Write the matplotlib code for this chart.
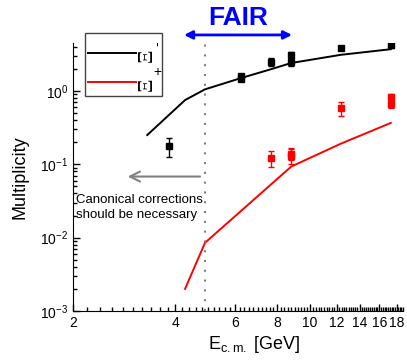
import numpy as np
import matplotlib.pyplot as plt
from matplotlib.ticker import FixedLocator, FixedFormatter, MultipleLocator, LogLocator
from matplotlib.patches import Rectangle
from matplotlib.lines import Line2D
import matplotlib.transforms as mtransforms

plt.rcParams['font.family'] = ['Liberation Sans', 'DejaVu Sans']
plt.rcParams['mathtext.fontset'] = 'custom'
plt.rcParams['mathtext.rm'] = 'Liberation Sans'
plt.rcParams['mathtext.it'] = 'Liberation Sans:italic'
plt.rcParams['mathtext.bf'] = 'Liberation Sans:bold'

# model curves (statistical model)
model_x_xim = [3.31, 4.28, 4.9, 6.27, 7.6, 8.8, 12.3, 17.3]
model_y_xim = [0.25, 0.75, 1.05, 1.5, 1.95, 2.4, 3.1, 3.7]
model_x_xip = [4.28, 4.9, 8.8, 12.3, 17.3]
model_y_xip = [0.002, 0.0085, 0.093, 0.19, 0.366]

# measured points
data_x_xim = [3.84, 6.27, 6.27, 7.65, 8.77, 8.77, 12.3, 17.3]
data_y_xim = [0.175, 1.45, 1.6, 2.5, 2.45, 3.05, 3.85, 4.2]
data_e_xim = [0.05, 0.1, 0.1, 0.3, 0.25, 0.3, 0.25, 0.4]

data_x_xip = [7.65, 8.77, 8.77, 12.3, 17.3, 17.3]
data_y_xip = [0.122, 0.13, 0.14, 0.58, 0.82, 0.67]
data_e_xip = [0.03, 0.03, 0.025, 0.13, 0.08, 0.08]

x_ticks = [2, 4, 6, 8, 10, 12, 14, 16, 18]
x_ticklabels = ['2', '4', '6', '8', '10', '12', '14', '16', '18']
fair_range = [4.25, 8.85]
canonical_edge = 4.9

legend_names = ['Ξ', 'Ξ']
legend_signs = ['-', '+']
legend_colors = ['black', 'red']

fig = plt.figure(figsize=(4.07, 3.63), dpi=100)
ax = fig.add_axes([0.1794, 0.1433, 0.8108, 0.7383])

ax.plot(model_x_xim, model_y_xim, color='black', lw=1.4)
ax.plot(model_x_xip, model_y_xip, color='red', lw=1.4)
ax.errorbar(data_x_xim, data_y_xim, yerr=data_e_xim, fmt='s', color='black',
            ms=5, capsize=2.5, elinewidth=1, capthick=1)
ax.errorbar(data_x_xip, data_y_xip, yerr=data_e_xip, fmt='s', color='red',
            ms=5, capsize=2.5, elinewidth=1, capthick=1)

ax.set_xscale('log')
ax.set_yscale('log')
ax.set_xlim(2, 18.8)
ax.set_ylim(1e-3, 4.5)

ax.xaxis.set_major_locator(FixedLocator(x_ticks))
ax.xaxis.set_major_formatter(FixedFormatter(x_ticklabels))
ax.xaxis.set_minor_locator(MultipleLocator(0.2))
ax.xaxis.set_minor_formatter(FixedFormatter([]))
ax.yaxis.set_major_locator(LogLocator(base=10))
ax.yaxis.set_minor_locator(LogLocator(base=10, subs=np.arange(2, 10)))

ax.spines['top'].set_visible(False)
ax.spines['right'].set_visible(False)
ax.tick_params(which='both', direction='in', width=1, labelsize=10, top=False, right=False)
ax.tick_params(which='major', length=5)
ax.tick_params(which='minor', length=3)

ax.set_xlabel(r'E$_{\rm c.m.}$ [GeV]', fontsize=13, labelpad=3)
ax.xaxis.set_label_coords(0.55, -0.085)
ax.set_ylabel('Multiplicity', fontsize=13, labelpad=8)

# canonical border
ax.axvline(canonical_edge, ymin=0, ymax=1.012, color='gray', lw=1.5,
           linestyle=(0, (1, 3.7)), clip_on=False)
ax.annotate('', xy=(2.9, 0.068), xytext=(4.74, 0.068),
            arrowprops=dict(arrowstyle='->', color='gray', lw=1.5,
                            mutation_scale=18, shrinkA=0, shrinkB=0))
ax.text(2.04, 0.0257, 'Canonical corrections\nshould be necessary', fontsize=9.5,
        va='center', ha='left', linespacing=1.25)

# FAIR range
trans = mtransforms.blended_transform_factory(ax.transData, ax.transAxes)
ax.annotate('', xy=(fair_range[0], 1.03), xytext=(fair_range[1], 1.03),
            xycoords=trans, textcoords=trans,
            arrowprops=dict(arrowstyle='<|-|>', color='blue', lw=2,
                            mutation_scale=12, shrinkA=0, shrinkB=0))
ax.text(np.sqrt(fair_range[0] * fair_range[1]), 1.092, 'FAIR', transform=trans,
        ha='center', va='center', fontsize=19, fontweight='bold', color='blue')

# legend box (the original renders the labels turned on their side)
ax.add_patch(Rectangle((0.0364, 0.8022), 0.2333, 0.2351, transform=ax.transAxes,
                       facecolor='white', edgecolor='#444444', lw=1,
                       clip_on=False, zorder=5))
for i, (name, sign, col) in enumerate(zip(legend_names, legend_signs, legend_colors)):
    yy = 0.9627 - i * 0.1082
    ax.add_line(Line2D([0.0455, 0.1909], [yy, yy], transform=ax.transAxes,
                       color=col, lw=1.4, clip_on=False, zorder=6))
    ax.text(0.2235, yy - 0.008, name, transform=ax.transAxes, rotation=90,
            ha='center', va='center', fontsize=15, zorder=6,
            family=['Liberation Serif', 'DejaVu Serif'])
    ax.text(0.2545, yy + 0.036, sign, transform=ax.transAxes,
            rotation=90 if sign == '-' else 0, ha='center', va='center',
            fontsize=10, zorder=6)

fig.savefig('out.png', dpi=100)
